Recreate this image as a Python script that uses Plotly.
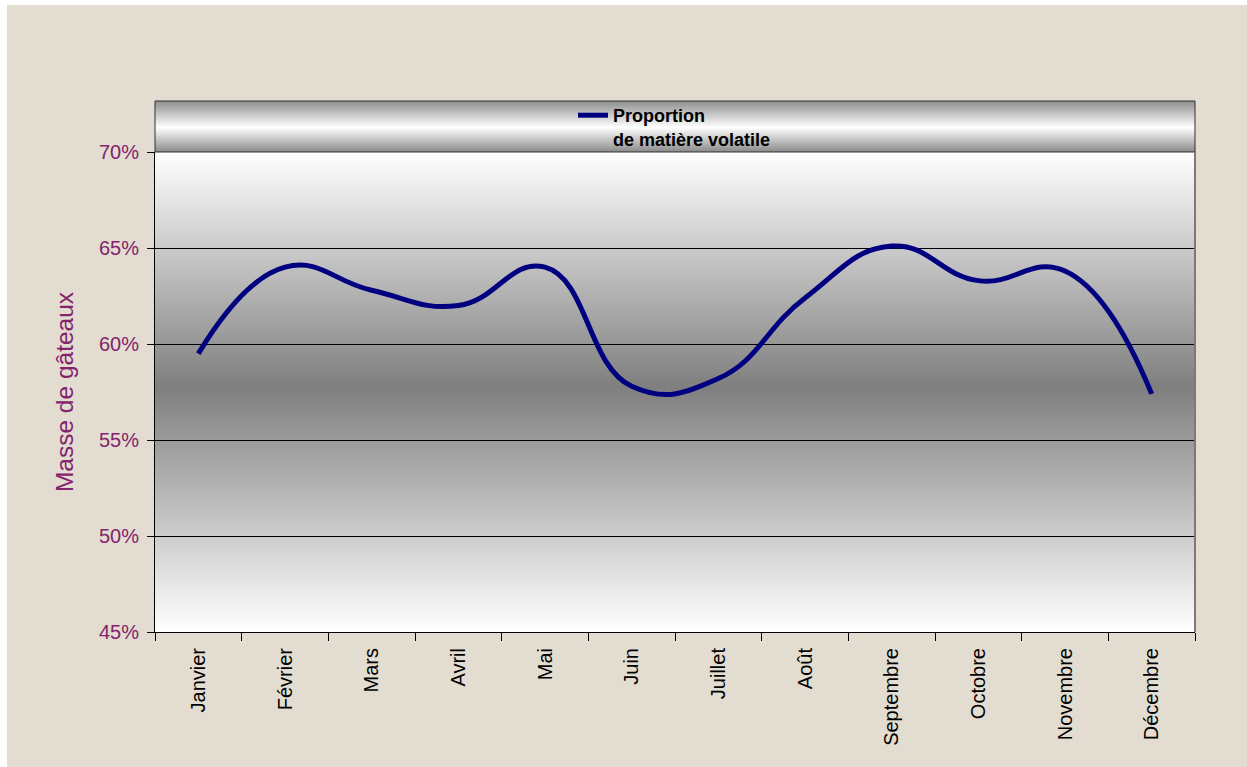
import base64
import plotly.graph_objects as go

# Monthly share of volatile matter in the cakes
mois = ["Janvier", "Février", "Mars", "Avril", "Mai", "Juin", "Juillet",
        "Août", "Septembre", "Octobre", "Novembre", "Décembre"]
proportion = [0.595, 0.640, 0.628, 0.620, 0.640, 0.578, 0.582,
              0.624, 0.651, 0.633, 0.638, 0.574]
serie_nom = "<b>Proportion<br>de matière volatile</b>"
axe_y_titre = "Masse de gâteaux"

FONT = "Arial, 'Liberation Sans', sans-serif"
PURPLE = "#84236e"
BEIGE = "#e3dcd0"

W, H = 1247, 767
L, R, T, B = 155, 52, 152, 135
PW, PH = W - L - R, H - T - B


def gradient_uri(stops):
    """Vertical linear gradient as an SVG data URI."""
    stop_tags = "".join(
        f'<stop offset="{o}" stop-color="{c}"/>' for o, c in stops)
    svg = ('<svg xmlns="http://www.w3.org/2000/svg" width="100" height="100" '
           'viewBox="0 0 100 100" preserveAspectRatio="none">'
           '<defs><linearGradient id="g" x1="0" y1="0" x2="0" y2="1">'
           f'{stop_tags}</linearGradient></defs>'
           '<rect x="0" y="0" width="100" height="100" fill="url(#g)"/></svg>')
    return "data:image/svg+xml;base64," + base64.b64encode(svg.encode()).decode()


def px_x(x):
    return (x - L) / PW


def px_y(y):
    return (H - B - y) / PH


plot_bg = gradient_uri([(0, "#ffffff"), (0.49, "#7f7f7f"), (1, "#ffffff")])
band_bg = gradient_uri([(0, "#8e8e8e"), (0.52, "#ffffff"), (1, "#8a8a8a")])

band_top = px_y(101)

fig = go.Figure()
fig.add_trace(go.Scatter(
    x=mois, y=proportion, mode="lines", name=serie_nom,
    line=dict(color="#000080", width=5, shape="spline", smoothing=1.3),
    showlegend=True, hoverinfo="x+y",
))

fig.update_layout(
    width=W, height=H,
    margin=dict(l=L, r=R, t=T, b=B, pad=0),
    paper_bgcolor=BEIGE,
    plot_bgcolor="rgba(0,0,0,0)",
    font=dict(family=FONT, size=18, color="black"),
    showlegend=True,
    legend=dict(
        x=px_x(573), y=px_y(97), xanchor="left", yanchor="top",
        bgcolor="rgba(0,0,0,0)", borderwidth=0,
        font=dict(family=FONT, size=18, color="black"),
        valign="top", itemwidth=30, tracegroupgap=0,
    ),
    images=[
        dict(source=plot_bg, xref="paper", yref="paper", x=0, y=1,
             sizex=1, sizey=1, xanchor="left", yanchor="top",
             sizing="stretch", layer="below"),
        dict(source=band_bg, xref="paper", yref="paper", x=0, y=band_top,
             sizex=1, sizey=band_top - 1, xanchor="left", yanchor="top",
             sizing="stretch", layer="below"),
    ],
    shapes=[
        # blank page edges on the left and top
        dict(type="rect", xref="paper", yref="paper",
             x0=px_x(-5), x1=px_x(7), y0=px_y(H + 5), y1=px_y(-5),
             fillcolor="white", line_width=0, layer="below"),
        dict(type="rect", xref="paper", yref="paper",
             x0=px_x(-5), x1=px_x(W + 5), y0=px_y(5), y1=px_y(-5),
             fillcolor="white", line_width=0, layer="below"),
        # legend band outline
        dict(type="rect", xref="paper", yref="paper",
             x0=0, x1=1, y0=1, y1=band_top,
             line=dict(color="#303030", width=1), layer="above"),
        # right edge of the plot area
        dict(type="line", xref="paper", yref="paper",
             x0=1, x1=1, y0=0, y1=1,
             line=dict(color="#7a7a7a", width=2), layer="above"),
    ],
    xaxis=dict(
        type="category", tickson="boundaries",
        ticks="outside", ticklen=8, tickcolor="black", tickwidth=1,
        showline=True, linecolor="black", linewidth=1,
        showgrid=False, tickangle=-90, ticklabelstandoff=7,
        tickfont=dict(family=FONT, size=20, color="black"),
        range=[-0.5, len(mois) - 0.5], fixedrange=True,
    ),
    yaxis=dict(
        range=[0.45, 0.70], dtick=0.05, tick0=0.45, tickformat=".0%",
        ticks="outside", ticklen=7, tickcolor="black", tickwidth=1,
        showline=True, linecolor="black", linewidth=1,
        showgrid=True, gridcolor="black", gridwidth=1,
        zeroline=False, ticklabelstandoff=4,
        tickfont=dict(family=FONT, size=20, color=PURPLE),
        title=dict(text=axe_y_titre, standoff=18,
                   font=dict(family=FONT, size=24.5, color=PURPLE)),
        fixedrange=True,
    ),
)

fig.write_html("out.html")
